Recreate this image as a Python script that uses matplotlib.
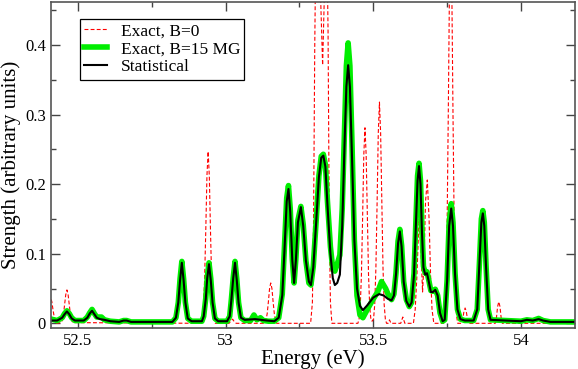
import matplotlib
matplotlib.use("Agg")
import matplotlib.pyplot as plt
from matplotlib.ticker import MultipleLocator, FuncFormatter

plt.rcParams['font.family'] = ['Liberation Serif', 'DejaVu Serif']

# Exact, B=0 (red dashed)
energy_b0 = [52.400, 52.404, 52.408, 52.412, 52.416, 52.420, 52.424, 52.428,
             52.443, 52.447, 52.451, 52.455, 52.459, 52.463, 52.467, 52.471, 52.475, 52.479, 52.483,
             52.917, 52.921, 52.925, 52.929, 52.933, 52.937, 52.941, 52.945, 52.949, 52.953, 52.957, 52.961, 52.965,
             53.012, 53.019, 53.024, 53.030, 53.036,
             53.133, 53.137, 53.141, 53.145, 53.149, 53.153, 53.157, 53.161, 53.165, 53.169, 53.173,
             53.288, 53.294, 53.298, 53.302, 53.308, 53.315, 53.321, 53.3286, 53.335, 53.341, 53.347, 53.351, 53.355, 53.360,
             53.448, 53.452, 53.456, 53.460, 53.464, 53.468, 53.472, 53.476, 53.480, 53.484, 53.488, 53.492,
             53.496, 53.501, 53.505, 53.509, 53.513, 53.517, 53.521, 53.525, 53.529, 53.533, 53.537, 53.541, 53.545,
             53.550, 53.555, 53.560, 53.593, 53.600, 53.607,
             53.636, 53.642, 53.648, 53.655, 53.661, 53.667, 53.672, 53.677, 53.683, 53.689, 53.694, 53.699, 53.705,
             53.738, 53.742, 53.746, 53.750, 53.754, 53.758, 53.762, 53.766, 53.770, 53.774, 53.778, 53.782, 53.786,
             53.799, 53.803, 53.807, 53.811, 53.815, 53.819, 53.823,
             53.913, 53.917, 53.921, 53.925, 53.929, 53.933, 53.937, 54.180]
strength_b0 = [0.030, 0.034, 0.036, 0.031, 0.019, 0.009, 0.003, 0.000,
               0.001, 0.004, 0.012, 0.026, 0.041, 0.048, 0.041, 0.026, 0.012, 0.004, 0.001,
               0.000, 0.005, 0.021, 0.062, 0.133, 0.212, 0.247, 0.212, 0.133, 0.062, 0.021, 0.005, 0.000,
               0.000, 0.004, 0.006, 0.002, 0.000,
               0.000, 0.005, 0.014, 0.031, 0.050, 0.058, 0.050, 0.031, 0.014, 0.005, 0.000,
               0.000, 0.030, 0.150, 0.400, 0.640, 0.660, 0.480, 0.371, 0.480, 0.620, 0.420, 0.150, 0.030, 0.000,
               0.000, 0.006, 0.024, 0.070, 0.152, 0.242, 0.281, 0.242, 0.152, 0.070, 0.024, 0.006,
               0.003, 0.006, 0.027, 0.080, 0.172, 0.273, 0.318, 0.273, 0.172, 0.080, 0.027, 0.006, 0.000,
               0.000, 0.005, 0.000, 0.000, 0.009, 0.000,
               0.000, 0.020, 0.070, 0.150, 0.110, 0.045, 0.090, 0.175, 0.206, 0.150, 0.070, 0.020, 0.000,
               0.000, 0.011, 0.048, 0.140, 0.300, 0.480, 0.560, 0.480, 0.300, 0.140, 0.048, 0.011, 0.000,
               0.000, 0.006, 0.017, 0.022, 0.017, 0.006, 0.000,
               0.000, 0.008, 0.024, 0.031, 0.024, 0.008, 0.000, 0.000]

# Exact, B=15 MG (green)
energy_b15 = [52.400, 52.430, 52.447, 52.455, 52.463, 52.471, 52.479, 52.490, 52.520, 52.532, 52.540,
              52.548, 52.556, 52.564, 52.572, 52.580, 52.590, 52.610, 52.640, 52.655, 52.665, 52.680,
              52.820, 52.832, 52.840, 52.846, 52.852, 52.858, 52.864, 52.872, 52.885,
              52.920, 52.926, 52.933, 52.938, 52.944, 52.950, 52.956, 52.964, 52.975,
              53.005, 53.014, 53.020, 53.026, 53.032, 53.038, 53.044, 53.052, 53.065,
              53.085, 53.096, 53.106, 53.118, 53.128, 53.145, 53.165,
              53.180, 53.192, 53.200, 53.207, 53.213, 53.219, 53.226, 53.232, 53.238, 53.245, 53.255,
              53.263, 53.272, 53.282, 53.289, 53.297, 53.306, 53.316, 53.324, 53.331, 53.338, 53.345,
              53.355, 53.363, 53.370, 53.378, 53.387, 53.395, 53.403, 53.409, 53.415, 53.421, 53.428,
              53.436, 53.445, 53.455, 53.465, 53.480, 53.500, 53.515, 53.528, 53.535, 53.542, 53.550,
              53.562, 53.570, 53.577, 53.584, 53.590, 53.596, 53.603, 53.612, 53.622, 53.630, 53.638,
              53.645, 53.650, 53.655, 53.660, 53.665, 53.670, 53.676, 53.682, 53.688, 53.695, 53.702,
              53.710, 53.718, 53.726, 53.735, 53.742, 53.750, 53.757, 53.764, 53.770, 53.777, 53.785,
              53.795, 53.810, 53.840, 53.852, 53.860, 53.866, 53.871, 53.876, 53.882, 53.889, 53.897,
              53.950, 54.000, 54.020, 54.040, 54.060, 54.075, 54.100, 54.180]
strength_b15 = [0.007, 0.004, 0.008, 0.014, 0.018, 0.014, 0.008, 0.004, 0.004, 0.009, 0.015,
                0.020, 0.014, 0.009, 0.009, 0.009, 0.005, 0.003, 0.002, 0.004, 0.004, 0.002,
                0.002, 0.008, 0.030, 0.064, 0.089, 0.064, 0.030, 0.007, 0.003,
                0.003, 0.010, 0.036, 0.066, 0.087, 0.064, 0.030, 0.007, 0.003,
                0.003, 0.010, 0.036, 0.066, 0.089, 0.064, 0.030, 0.008, 0.004,
                0.004, 0.012, 0.005, 0.008, 0.004, 0.003, 0.003,
                0.008, 0.042, 0.115, 0.180, 0.198, 0.165, 0.092, 0.058, 0.092, 0.148, 0.168,
                0.142, 0.090, 0.058, 0.055, 0.082, 0.142, 0.212, 0.240, 0.243, 0.228, 0.175,
                0.110, 0.078, 0.075, 0.085, 0.098, 0.165, 0.285, 0.370, 0.403, 0.370, 0.260,
                0.120, 0.040, 0.012, 0.008, 0.020, 0.035, 0.045, 0.060, 0.055, 0.050, 0.042,
                0.034, 0.042, 0.072, 0.118, 0.135, 0.112, 0.060, 0.034, 0.024, 0.030, 0.072,
                0.155, 0.212, 0.230, 0.205, 0.135, 0.082, 0.072, 0.074, 0.062, 0.047, 0.046,
                0.049, 0.040, 0.015, 0.003, 0.005, 0.062, 0.145, 0.172, 0.145, 0.072, 0.020,
                0.006, 0.004, 0.004, 0.020, 0.092, 0.150, 0.162, 0.145, 0.082, 0.020, 0.005,
                0.004, 0.003, 0.005, 0.004, 0.007, 0.004, 0.002, 0.002]

# Statistical (black)
energy_stat = [52.400, 52.430, 52.447, 52.455, 52.463, 52.471, 52.479, 52.490, 52.520, 52.532, 52.540,
               52.548, 52.556, 52.564, 52.575, 52.590, 52.610, 52.640, 52.655, 52.665, 52.680,
               52.820, 52.832, 52.840, 52.846, 52.852, 52.858, 52.864, 52.872, 52.885,
               52.920, 52.926, 52.933, 52.938, 52.944, 52.950, 52.956, 52.964, 52.975,
               53.005, 53.014, 53.020, 53.026, 53.032, 53.038, 53.044, 53.052, 53.065,
               53.100, 53.140, 53.165,
               53.180, 53.192, 53.200, 53.207, 53.213, 53.219, 53.226, 53.232, 53.238, 53.245, 53.255,
               53.263, 53.272, 53.282, 53.289, 53.297, 53.306, 53.316, 53.324, 53.331, 53.338, 53.345,
               53.355, 53.363, 53.370, 53.378, 53.387, 53.395, 53.403, 53.409, 53.415, 53.421, 53.428,
               53.436, 53.445, 53.455, 53.465, 53.480, 53.500, 53.520, 53.535, 53.550,
               53.562, 53.570, 53.577, 53.584, 53.590, 53.596, 53.603, 53.612, 53.622, 53.630, 53.638,
               53.645, 53.650, 53.655, 53.660, 53.665, 53.670, 53.676, 53.682, 53.688, 53.695, 53.702,
               53.710, 53.718, 53.726, 53.735, 53.742, 53.750, 53.757, 53.764, 53.770, 53.777, 53.785,
               53.795, 53.810, 53.840, 53.852, 53.860, 53.866, 53.871, 53.876, 53.882, 53.889, 53.897,
               53.950, 54.000, 54.020, 54.040, 54.060, 54.075, 54.100, 54.180]
strength_stat = [0.004, 0.004, 0.008, 0.013, 0.017, 0.013, 0.007, 0.004, 0.004, 0.008, 0.014,
                 0.018, 0.013, 0.008, 0.006, 0.005, 0.003, 0.002, 0.004, 0.004, 0.002,
                 0.002, 0.008, 0.030, 0.062, 0.087, 0.062, 0.030, 0.007, 0.003,
                 0.003, 0.010, 0.035, 0.065, 0.085, 0.062, 0.030, 0.007, 0.003,
                 0.003, 0.010, 0.035, 0.065, 0.087, 0.062, 0.030, 0.008, 0.005,
                 0.006, 0.004, 0.003,
                 0.008, 0.040, 0.110, 0.175, 0.193, 0.160, 0.090, 0.058, 0.090, 0.145, 0.167,
                 0.140, 0.090, 0.060, 0.055, 0.080, 0.140, 0.210, 0.238, 0.241, 0.225, 0.170,
                 0.100, 0.065, 0.055, 0.058, 0.070, 0.140, 0.260, 0.340, 0.371, 0.340, 0.240,
                 0.120, 0.050, 0.025, 0.019, 0.026, 0.037, 0.042, 0.040, 0.035,
                 0.033, 0.040, 0.070, 0.115, 0.132, 0.110, 0.060, 0.032, 0.024, 0.030, 0.070,
                 0.150, 0.205, 0.226, 0.200, 0.130, 0.080, 0.070, 0.072, 0.060, 0.045, 0.045,
                 0.048, 0.040, 0.015, 0.003, 0.005, 0.060, 0.140, 0.165, 0.140, 0.070, 0.020,
                 0.006, 0.004, 0.004, 0.020, 0.090, 0.145, 0.158, 0.140, 0.080, 0.020, 0.005,
                 0.004, 0.003, 0.005, 0.004, 0.006, 0.004, 0.002, 0.002]

fig = plt.figure(figsize=(5.78, 3.69), dpi=100)
ax = fig.add_axes([0.0882, 0.111, 0.9066, 0.8836])

ax.plot(energy_b0, strength_b0, color='red', lw=0.8, dashes=(3.5, 2), label='Exact, B=0')
ax.plot(energy_b15, strength_b15, color='#00ee00', lw=4.0, solid_joinstyle='round', label='Exact, B=15 MG')
ax.plot(energy_stat, strength_stat, color='black', lw=1.5, label='Statistical')

ax.set_xlim(52.409, 54.183)
ax.set_ylim(-0.0068, 0.4618)
ax.xaxis.set_major_locator(MultipleLocator(0.5))
ax.xaxis.set_minor_locator(MultipleLocator(0.25))
ax.yaxis.set_major_locator(MultipleLocator(0.1))
ax.yaxis.set_minor_locator(MultipleLocator(0.05))
ax.xaxis.set_major_formatter(FuncFormatter(lambda v, p: '%g' % v))
ax.yaxis.set_major_formatter(FuncFormatter(lambda v, p: '0' if abs(v) < 1e-9 else '%g' % v))
ax.tick_params(which='both', direction='in', top=True, right=True, color='#444444', labelsize=12)
ax.tick_params(which='major', length=6.5, width=1)
ax.tick_params(which='minor', length=3.5, width=1)
for s in ax.spines.values():
    s.set_color('#555555')
    s.set_linewidth(1.2)

ax.set_xlabel('Energy (eV)', fontsize=15, labelpad=0)
ax.set_ylabel('Strength (arbitrary units)', fontsize=15, labelpad=3)

leg = ax.legend(loc='upper left', bbox_to_anchor=(0.055, 0.948), borderaxespad=0,
                fancybox=False, framealpha=1, edgecolor='black', fontsize=12.5,
                handlelength=1.3, handletextpad=0.8, borderpad=0.25, labelspacing=0.1)
leg.get_frame().set_linewidth(0.9)

fig.savefig('out.png', dpi=100)
